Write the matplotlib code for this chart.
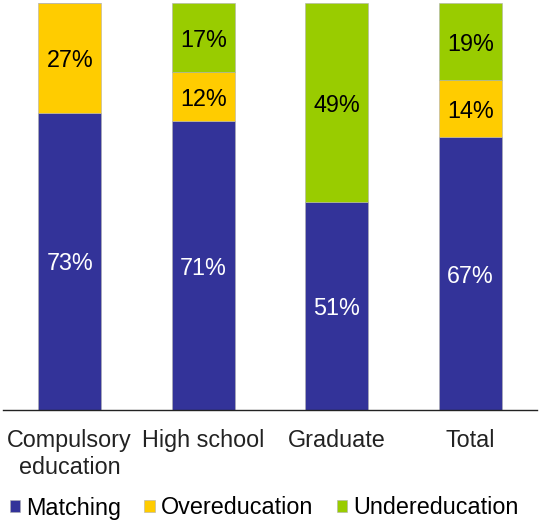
import matplotlib.pyplot as plt
import numpy as np

plt.rcParams['font.family'] = ['Liberation Sans', 'DejaVu Sans']

categories = ["Compulsory\neducation", "High school", "Graduate", "Total"]
matching = [73, 71, 51, 67]
overeducation = [27, 12, 0, 14]
undereducation = [0, 17, 49, 19]

series = [
    ("Matching", matching, "#333399", "white"),
    ("Overeducation", overeducation, "#FFCC00", "black"),
    ("Undereducation", undereducation, "#99CC00", "black"),
]

FS = 16.8

fig = plt.figure(figsize=(5.47, 5.22), dpi=100)
ax = fig.add_axes([3 / 547, 112 / 522, 534 / 547, 407 / 522])

x = np.arange(len(categories))
bottom = np.zeros(len(categories))
for name, vals, color, tcolor in series:
    vals = np.array(vals, dtype=float)
    ax.bar(x, vals, width=0.47, bottom=bottom, color=color,
           edgecolor="#b0b0b0", linewidth=0.4, label=name)
    for xi, b, v in zip(x, bottom, vals):
        if v > 0:
            ax.text(xi, b + v / 2, f"{v:.0f}%", ha="center", va="center_baseline",
                    color=tcolor, fontsize=FS)
    bottom += vals

ax.set_xlim(-0.5, len(categories) - 0.5)
ax.set_ylim(0, 100)
ax.set_xticks(x)
ax.set_xticklabels(categories, fontsize=FS, color="#222222", linespacing=1.18)
ax.tick_params(axis="x", length=0, pad=14)
ax.set_yticks([])
for s in ["top", "left", "right"]:
    ax.spines[s].set_visible(False)
ax.spines["bottom"].set_color("#222222")
ax.spines["bottom"].set_linewidth(1.0)

fig.legend(loc="center", bbox_to_anchor=(264 / 547, 1 - 508 / 522), ncol=3,
           frameon=False, fontsize=FS, handlelength=0.45, handleheight=0.45,
           handletextpad=0.25, columnspacing=1.0, borderpad=0, borderaxespad=0)

fig.savefig("out.png", dpi=100)
